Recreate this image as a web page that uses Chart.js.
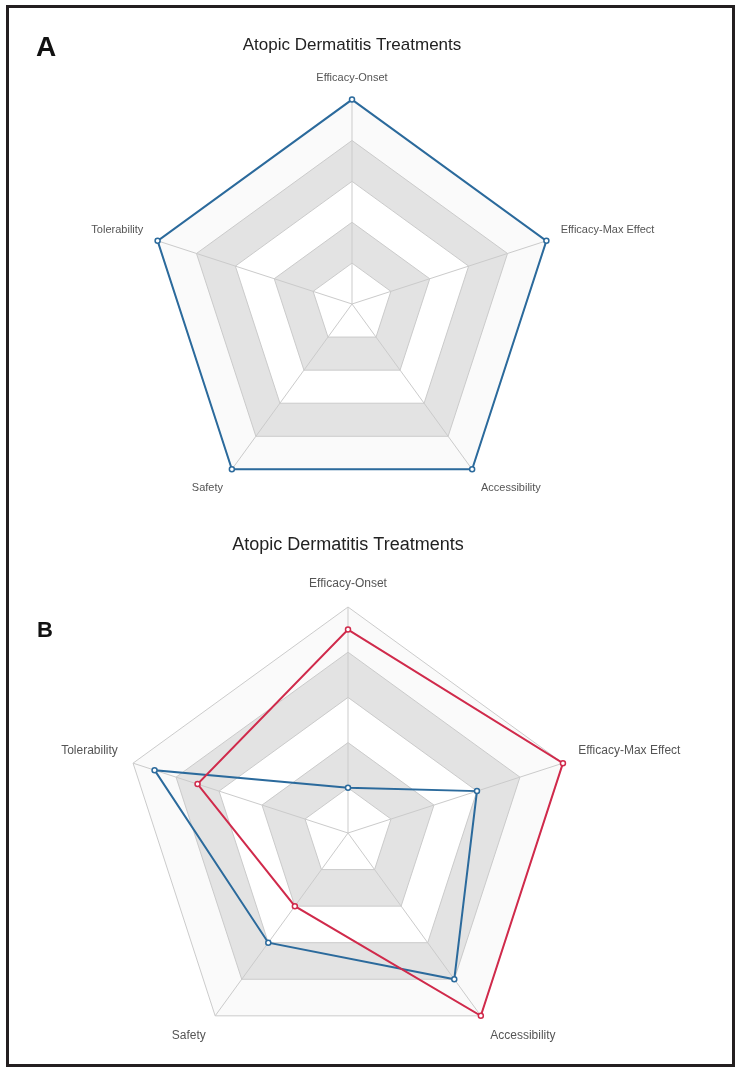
<!DOCTYPE html>
<html>
<head>
<meta charset="utf-8">
<script src="https://cdn.jsdelivr.net/npm/chart.js"></script>
<style>
  html, body { margin: 0; padding: 0; overflow: hidden; background: #fff; }
  body { width: 738px; height: 1072px; position: relative; }
  canvas { position: absolute; }
  #chartA { left: 0; top: 0; }
  #chartB { left: -60px; top: 520px; }
  .panel { position: absolute; font-family: "Liberation Sans", Arial, sans-serif; font-weight: bold; line-height: 1; color: #111; }
  #frame { position: absolute; left: 6px; top: 5px; width: 723px; height: 1056px; border: 3px solid #231f20; pointer-events: none; }
</style>
</head>
<body>
<canvas id="chartA" width="738" height="524"></canvas>
<canvas id="chartB" width="816" height="556"></canvas>
<div class="panel" style="left:36px; top:33px; font-size:28px;">A</div>
<div class="panel" style="left:37px; top:619px; font-size:22px;">B</div>
<div id="frame"></div>
<script>
// categorias e valores
const eixos = ['Efficacy-Onset', 'Efficacy-Max Effect', 'Accessibility', 'Safety', 'Tolerability'];
const valoresA = [5, 5, 5, 5, 5];
const valoresBVermelho = [4.5, 5, 5, 2, 3.5];
const valoresBAzul = [1, 3, 4, 3, 4.5];
const escalaMax = 5;

const titulo = 'Atopic Dermatitis Treatments';
const azul = '#2b6a9c';
const vermelho = '#d02a4b';

// faixas alternadas (do anel externo para o interno)
const coresFaixas = ['#fafafa', '#e3e3e3', '#ffffff', '#e3e3e3', '#ffffff'];

const faixasPlugin = {
    id: 'faixas',
    beforeDraw(chart) {
        const scale = chart.scales.r;
        const ctx = chart.ctx;
        const n = chart.data.labels.length;
        const ticks = scale.ticks.map(t => t.value).filter(v => v > 0).sort((a, b) => b - a);
        ctx.save();
        ticks.forEach((v, k) => {
            ctx.beginPath();
            for (let i = 0; i < n; i++) {
                const p = scale.getPointPositionForValue(i, v);
                if (i === 0) ctx.moveTo(p.x, p.y); else ctx.lineTo(p.x, p.y);
            }
            ctx.closePath();
            ctx.fillStyle = coresFaixas[k % coresFaixas.length];
            ctx.fill();
        });
        ctx.restore();
    }
};

function serie(label, data, cor) {
    return {
        label: label,
        data: data,
        borderColor: cor,
        borderWidth: 2,
        backgroundColor: 'rgba(0,0,0,0)',
        fill: false,
        pointRadius: 2.5,
        pointBorderWidth: 1.5,
        pointBackgroundColor: '#fff',
        pointBorderColor: cor
    };
}

function opcoes(cfg) {
    return {
        responsive: false,
        animation: false,
        devicePixelRatio: 1,
        layout: { padding: cfg.padding },
        plugins: {
            legend: { display: false },
            tooltip: { enabled: false },
            title: {
                display: true,
                text: titulo,
                color: '#222',
                font: { family: 'Liberation Sans', size: cfg.tituloTam, weight: 'normal' },
                padding: { top: 0, bottom: cfg.tituloEsp }
            }
        },
        scales: {
            r: {
                min: 0,
                max: escalaMax,
                ticks: { display: false, stepSize: 1 },
                grid: { color: '#cbcbcb', lineWidth: 1 },
                angleLines: { color: '#cbcbcb', lineWidth: 1 },
                pointLabels: {
                    color: '#555',
                    padding: cfg.rotuloEsp,
                    font: { family: 'Liberation Sans', size: cfg.rotuloTam }
                }
            }
        }
    };
}

new Chart(document.getElementById('chartA'), {
    type: 'radar',
    data: {
        labels: eixos,
        datasets: [serie('A', valoresA, azul)]
    },
    options: opcoes({ padding: { top: 35, left: 0, right: 34, bottom: 0 }, tituloTam: 17, tituloEsp: 2, rotuloTam: 11, rotuloEsp: 15 }),
    plugins: [faixasPlugin]
});

new Chart(document.getElementById('chartB'), {
    type: 'radar',
    data: {
        labels: eixos,
        datasets: [
            serie('Tratamento 1', valoresBVermelho, vermelho),
            serie('Tratamento 2', valoresBAzul, azul)
        ]
    },
    options: opcoes({ padding: { top: 14, left: 0, right: 0, bottom: 0 }, tituloTam: 18, tituloEsp: 6, rotuloTam: 12, rotuloEsp: 16 }),
    plugins: [faixasPlugin]
});
</script>
</body>
</html>
